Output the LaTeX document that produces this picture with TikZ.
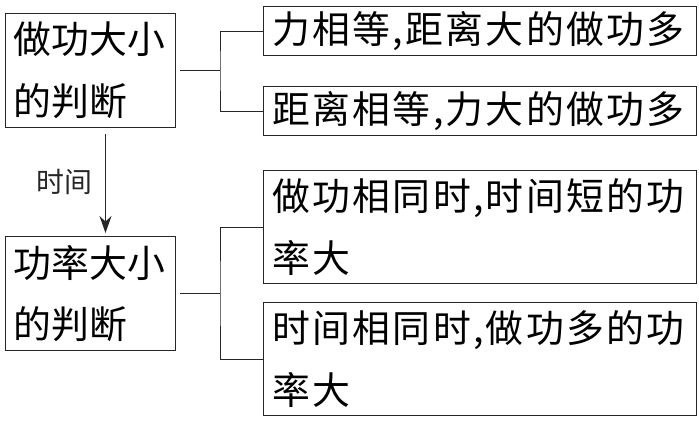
\documentclass[tikz,border=0pt]{standalone}
\usepackage{fontspec}
\newfontfamily\cjk{Noto Sans CJK SC}
\newfontfamily\cjkwide[LetterSpace=6]{Noto Sans CJK SC}
\usepackage{tikz}
\usetikzlibrary{arrows.meta,positioning,calc}

\begin{document}
\begin{tikzpicture}[
  x=1bp, y=-1bp,
  box/.style={rectangle, draw=black!85, line width=1bp, anchor=north west,
              align=left, inner sep=0pt, font=\cjk\fontsize{38}{62}\selectfont},
  topic/.style={box, minimum width=170bp, minimum height=114bp, text width=154bp},
  leaf/.style={box, minimum width=433bp, text width=415bp,
               font=\cjkwide\fontsize{38}{62}\selectfont},
  arr/.style={-{Stealth[length=17bp,width=12bp]}, line width=1bp, black!85},
  link/.style={line width=1bp, black!85},
  note/.style={font=\cjk\fontsize{28}{30}\selectfont, inner sep=0pt}
]
\useasboundingbox (0,0) rectangle (699,420);
% left column
\node[topic] (work) at (5,13) {做功大小\\的判断};
\node[topic] (power) at (5,236) {功率大小\\的判断};
% right column
\node[leaf, minimum height=49bp] (w1) at (263,6) {力相等,距离大的做功多};
\node[leaf, minimum height=49bp] (w2) at (263,86) {距离相等,力大的做功多};
\node[leaf, minimum height=113bp] (p1) at (263,170) {做功相同时,时间短的功\\率大};
\node[leaf, minimum height=113bp] (p2) at (263,302) {时间相同时,做功多的功\\率大};
% arrow between the two
\draw[arr, shorten <=6bp, shorten >=3bp] ([xshift=15bp]work.south) -- ([xshift=15bp]power.north)
  node[note, midway, left=13bp] (time) {时间};
% brackets
\draw[link, shorten <=4bp] (work.east) -- ++(44,0) coordinate (jw);
\draw[link] (w1.west) -| (jw) |- (w2.west);
\draw[link, shorten <=4bp] (power.east) -- ++(44,0) coordinate (jp);
\draw[link] (p1.west) -| (jp) |- (p2.west);
\end{tikzpicture}
\end{document}
